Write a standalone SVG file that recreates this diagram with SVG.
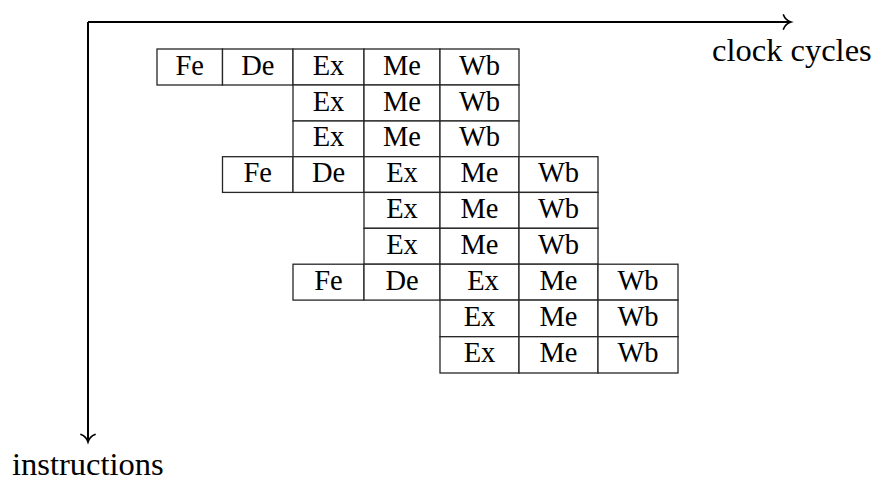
<svg xmlns="http://www.w3.org/2000/svg" width="875" height="481" viewBox="0 0 875 481">
  <defs>
    <style>
      .cell { fill: #ffffff; stroke: #262626; stroke-width: 1.3; }
      .stage { font-family: "Liberation Serif", "Times New Roman", serif; font-size: 28.5px; fill: #000; text-anchor: middle; }
      .axis { fill: none; stroke: #000; stroke-width: 2; }
      .label { font-family: "Liberation Serif", "Times New Roman", serif; font-size: 32.5px; fill: #000; }
    </style>
    <!-- curved "to"-style arrow tip -->
    <marker id="tip" markerUnits="userSpaceOnUse" markerWidth="20" markerHeight="20" viewBox="-10 -10 20 20" refX="0" refY="0" orient="auto">
      <path d="M-7.5,-7 C-6,-3 -2.5,-0.8 0,0 C-2.5,0.8 -6,3 -7.5,7" fill="none" stroke="#000" stroke-width="1.7" stroke-linecap="round"/>
    </marker>
  </defs>

  <rect x="0" y="0" width="875" height="481" fill="#ffffff"/>

  <!-- axes -->
  <g id="connectors">
    <path class="axis" d="M88,22 H791" marker-end="url(#tip)"/>
    <path class="axis" d="M88,22 V442" marker-end="url(#tip)"/>
  </g>

  <g id="axis-labels">
    <text class="label" x="712" y="61">clock cycles</text>
    <text class="label" x="12" y="475">instructions</text>
  </g>

  <!-- first instruction group -->
  <g id="group1">
    <rect class="cell" x="157" y="49" width="65.5" height="36"/>
    <rect class="cell" x="222.5" y="49" width="70.5" height="36"/>
    <rect class="cell" x="293" y="49" width="71" height="36"/>
    <rect class="cell" x="364" y="49" width="76" height="36"/>
    <rect class="cell" x="440" y="49" width="79" height="36"/>
    <text class="stage" x="189.75" y="74.5">Fe</text>
    <text class="stage" x="257.75" y="74.5">De</text>
    <text class="stage" x="328.5" y="74.5">Ex</text>
    <text class="stage" x="402" y="74.5">Me</text>
    <text class="stage" x="479.5" y="74.5">Wb</text>

    <rect class="cell" x="293" y="85" width="71" height="36"/>
    <rect class="cell" x="364" y="85" width="76" height="36"/>
    <rect class="cell" x="440" y="85" width="79" height="36"/>
    <text class="stage" x="328.5" y="110.5">Ex</text>
    <text class="stage" x="402" y="110.5">Me</text>
    <text class="stage" x="479.5" y="110.5">Wb</text>

    <rect class="cell" x="293" y="121" width="71" height="35.7"/>
    <rect class="cell" x="364" y="121" width="76" height="35.7"/>
    <rect class="cell" x="440" y="121" width="79" height="35.7"/>
    <text class="stage" x="328.5" y="146.3">Ex</text>
    <text class="stage" x="402" y="146.3">Me</text>
    <text class="stage" x="479.5" y="146.3">Wb</text>
  </g>

  <!-- second instruction group -->
  <g id="group2">
    <rect class="cell" x="222.5" y="156.7" width="70.5" height="35.7"/>
    <rect class="cell" x="293" y="156.7" width="71" height="35.7"/>
    <rect class="cell" x="364" y="156.7" width="76" height="35.7"/>
    <rect class="cell" x="440" y="156.7" width="79" height="35.7"/>
    <rect class="cell" x="519" y="156.7" width="79" height="35.7"/>
    <text class="stage" x="257.75" y="182">Fe</text>
    <text class="stage" x="328.5" y="182">De</text>
    <text class="stage" x="402" y="182">Ex</text>
    <text class="stage" x="479.5" y="182">Me</text>
    <text class="stage" x="558.5" y="182">Wb</text>

    <rect class="cell" x="364" y="192.4" width="76" height="35.9"/>
    <rect class="cell" x="440" y="192.4" width="79" height="35.9"/>
    <rect class="cell" x="519" y="192.4" width="79" height="35.9"/>
    <text class="stage" x="402" y="217.8">Ex</text>
    <text class="stage" x="479.5" y="217.8">Me</text>
    <text class="stage" x="558.5" y="217.8">Wb</text>

    <rect class="cell" x="364" y="228.3" width="76" height="35.9"/>
    <rect class="cell" x="440" y="228.3" width="79" height="35.9"/>
    <rect class="cell" x="519" y="228.3" width="79" height="35.9"/>
    <text class="stage" x="402" y="253.7">Ex</text>
    <text class="stage" x="479.5" y="253.7">Me</text>
    <text class="stage" x="558.5" y="253.7">Wb</text>
  </g>

  <!-- third instruction group -->
  <g id="group3">
    <rect class="cell" x="293" y="264.2" width="71" height="35.9"/>
    <rect class="cell" x="364" y="264.2" width="76" height="35.9"/>
    <rect class="cell" x="440" y="264.2" width="79" height="35.9"/>
    <rect class="cell" x="519" y="264.2" width="79" height="35.9"/>
    <rect class="cell" x="598" y="264.2" width="80" height="35.9"/>
    <text class="stage" x="328.5" y="289.6">Fe</text>
    <text class="stage" x="402" y="289.6">De</text>
    <text class="stage" x="483" y="289.6">Ex</text>
    <text class="stage" x="558.5" y="289.6">Me</text>
    <text class="stage" x="638" y="289.6">Wb</text>

    <rect class="cell" x="440" y="300.1" width="79" height="36.6"/>
    <rect class="cell" x="519" y="300.1" width="79" height="36.6"/>
    <rect class="cell" x="598" y="300.1" width="80" height="36.6"/>
    <text class="stage" x="479.5" y="325.8">Ex</text>
    <text class="stage" x="558.5" y="325.8">Me</text>
    <text class="stage" x="638" y="325.8">Wb</text>

    <rect class="cell" x="440" y="336.7" width="79" height="36.3"/>
    <rect class="cell" x="519" y="336.7" width="79" height="36.3"/>
    <rect class="cell" x="598" y="336.7" width="80" height="36.3"/>
    <text class="stage" x="479.5" y="362">Ex</text>
    <text class="stage" x="558.5" y="362">Me</text>
    <text class="stage" x="638" y="362">Wb</text>
  </g>
</svg>
